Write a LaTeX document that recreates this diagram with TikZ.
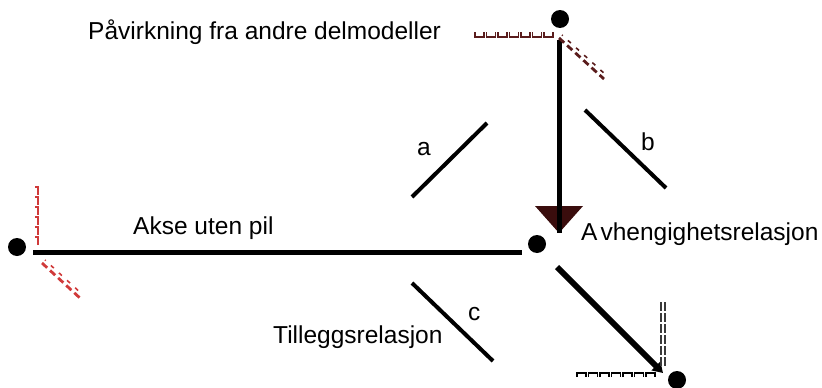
\documentclass[tikz,border=0pt]{standalone}
\usepackage{fontspec}
\setmainfont{Liberation Sans}
\usetikzlibrary{arrows.meta}
\definecolor{hatchbrown}{HTML}{5A1C1C}
\definecolor{hatchred}{HTML}{D03A3A}
\definecolor{tipbrown}{HTML}{3A0D0D}
\definecolor{hatchgray}{HTML}{3A3A3A}
\begin{document}
\begin{tikzpicture}[x=1pt,y=-1pt,
  dot/.style={circle,fill=black,inner sep=0pt,minimum size=18pt},
  lbl/.style={inner sep=0pt,font=\fontsize{24.5}{28}\selectfont},
  thick axis/.style={line width=5pt},
  rel/.style={line width=4pt},
  comb/.style={line width=1.6pt}]
\useasboundingbox (0,0) rectangle (822,388);

% end points
\node[dot] (top) at (560,19) {};
\node[dot] (left) at (17,247) {};
\node[dot] (mid) at (537,244) {};
\node[dot] (bot) at (677,380) {};

\coordinate (vstart) at (559,40);
\coordinate (vtip) at (559,233);
\coordinate (hstart) at (33,252);
\coordinate (hend) at (522,252);
\coordinate (dstart) at (557,267);
\coordinate (dend) at (663,373);

% texts
\node[lbl,anchor=base west] (infl) at (88,39) {Påvirkning fra andre delmodeller};
\node[lbl,anchor=base west] (axis) at (133,234) {Akse uten pil};
\node[lbl,anchor=base west] (dep) at (581,240) {A\kern3pt vhengighetsrelasjon};
\node[lbl,anchor=base west] (add) at (273,343) {Tilleggsrelasjon};
\node[lbl,anchor=base west] (la) at (417,155) {a};
\node[lbl,anchor=base west] (lb) at (641,150) {b};
\node[lbl,anchor=base west] (lc) at (468,320) {c};

% dependency arrow: filled triangle with the axis running into it
\fill[tipbrown] (535,206) -- (583,206) -- (vtip) -- cycle;
\draw[thick axis] (vstart) -- (vtip);

% axis without arrow
\draw[thick axis] (hstart) -- (hend);

% addition relation
\draw[line width=6pt,-{Triangle[length=10pt,width=12pt]}] (dstart) -- (dend);

% relation strokes a, b, c
\coordinate (a1) at (412,197); \coordinate (a2) at (487,123);
\coordinate (b1) at (585,110); \coordinate (b2) at (666,188);
\coordinate (c1) at (412,283); \coordinate (c2) at (493,361);
\draw[rel] (a1) -- (a2);
\draw[rel] (b1) -- (b2);
\draw[rel] (c1) -- (c2);

% hatched marks at the top point
\foreach \x in {475,486.5,...,545}
  \draw[comb,hatchbrown] (\x,32) -- (\x,37) -- (\x+9,37) -- (\x+9,32);
\draw[hatchbrown,line width=2.8pt,dash pattern=on 7pt off 4pt] (559,38) -- (604,79);
\draw[hatchbrown,line width=1.6pt,dash pattern=on 4pt off 7pt,dash phase=3pt] (562,35) -- (606,75);

% hatched marks at the left point
\foreach \y in {187,197,...,237}
  \draw[comb,hatchred] (35,\y) -- (38,\y) -- (38,\y+8);
\draw[hatchred,line width=2.8pt,dash pattern=on 7pt off 4pt] (42,263) -- (81,299);
\draw[hatchred,line width=1.6pt,dash pattern=on 4pt off 7pt,dash phase=3pt] (45,260) -- (83,295);

% hatched marks at the bottom point
\draw[hatchgray,line width=1.3pt,dash pattern=on 9pt off 2pt] (661,302) -- (661,367);
\draw[hatchgray,line width=1.3pt,dash pattern=on 9pt off 2pt] (665,302) -- (665,367);
\foreach \x in {577,588.5,...,647}
  \draw[comb,black] (\x,377) -- (\x,373) -- (\x+9,373) -- (\x+9,377);
\end{tikzpicture}
\end{document}
